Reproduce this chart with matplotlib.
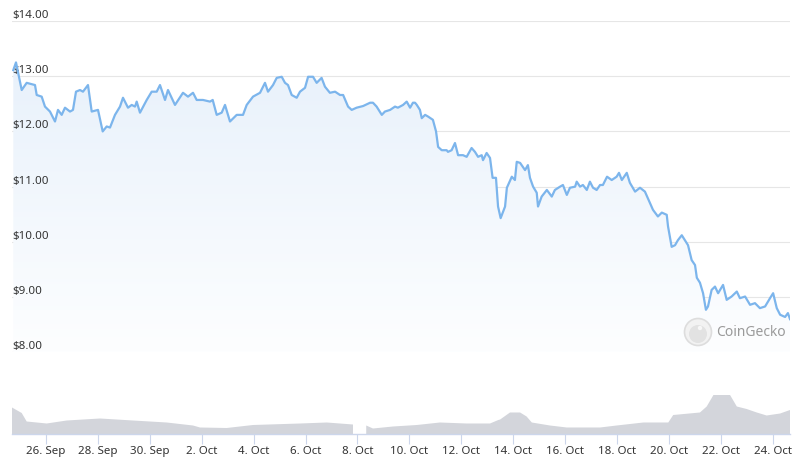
import matplotlib
matplotlib.use("Agg")
import matplotlib.pyplot as plt
import matplotlib.dates as mdates
import matplotlib.transforms as mtransforms
from matplotlib.patches import Circle
import numpy as np
from datetime import datetime, timedelta

# ---------------- data ----------------
start = datetime(2023, 9, 26)

price_days = [-1.26, -1.156, -0.936, -0.744, -0.424, -0.358, -0.166, -0.039, 0.154, 0.347,
              0.462, 0.605, 0.732, 0.925, 1.04, 1.156, 1.31, 1.425, 1.618, 1.761,
              2.004, 2.185, 2.339, 2.466, 2.659, 2.852, 2.967, 3.16, 3.303, 3.43,
              3.495, 3.622, 3.881, 4.073, 4.266, 4.393, 4.586, 4.701, 4.971, 5.279,
              5.472, 5.665, 5.807, 6.05, 6.32, 6.424, 6.578, 6.771, 6.898, 7.09,
              7.349, 7.592, 7.734, 7.977, 8.247, 8.439, 8.555, 8.748, 8.89, 9.083,
              9.21, 9.326, 9.468, 9.661, 9.788, 9.981, 10.1, 10.29, 10.43, 10.62,
              10.75, 10.94, 11.14, 11.33, 11.45, 11.64, 11.78, 11.97, 12.22, 12.49,
              12.6, 12.74, 12.94, 13.06, 13.26, 13.45, 13.56, 13.76, 13.9, 14.03,
              14.14, 14.22, 14.29, 14.41, 14.48, 14.61, 14.72, 14.91, 15.03, 15.11,
              15.25, 15.44, 15.49, 15.63, 15.76, 15.88, 16.07, 16.21, 16.4, 16.53,
              16.65, 16.79, 16.84, 16.98, 17.11, 17.21, 17.34, 17.42, 17.52, 17.69,
              17.76, 17.95, 18.07, 18.14, 18.27, 18.46, 18.57, 18.65, 18.77, 18.91,
              18.96, 19.1, 19.3, 19.49, 19.61, 19.81, 19.92, 20.07, 20.19, 20.39,
              20.45, 20.58, 20.69, 20.84, 20.96, 21.08, 21.22, 21.35, 21.46, 21.62,
              21.8, 21.99, 22.08, 22.19, 22.38, 22.5, 22.7, 22.89, 23.08, 23.28,
              23.39, 23.58, 23.73, 23.92, 23.97, 24.11, 24.24, 24.35, 24.5, 24.62,
              24.74, 24.88, 25.01, 25.08, 25.2, 25.32, 25.43, 25.51, 25.65, 25.78,
              25.9, 26.09, 26.23, 26.42, 26.62, 26.74, 26.94, 27.13, 27.32, 27.51,
              27.71, 27.9, 28.02, 28.16, 28.29, 28.48, 28.59, 28.67]

prices = [13.11, 13.25, 12.75, 12.88, 12.84, 12.66, 12.63, 12.45, 12.36, 12.18,
          12.39, 12.30, 12.43, 12.36, 12.39, 12.72, 12.75, 12.72, 12.84, 12.36,
          12.39, 12.00, 12.09, 12.07, 12.30, 12.45, 12.61, 12.43, 12.48, 12.45,
          12.54, 12.34, 12.57, 12.72, 12.72, 12.84, 12.57, 12.75, 12.48, 12.70,
          12.63, 12.70, 12.57, 12.57, 12.54, 12.57, 12.30, 12.34, 12.48, 12.18,
          12.30, 12.30, 12.48, 12.63, 12.70, 12.88, 12.72, 12.84, 12.97, 12.99,
          12.88, 12.84, 12.66, 12.61, 12.72, 12.79, 12.99, 12.99, 12.88, 12.97,
          12.81, 12.70, 12.72, 12.66, 12.66, 12.45, 12.39, 12.43, 12.46, 12.52,
          12.52, 12.45, 12.30, 12.36, 12.39, 12.45, 12.43, 12.48, 12.54, 12.43,
          12.52, 12.52, 12.48, 12.39, 12.24, 12.30, 12.27, 12.21, 12.00, 11.72,
          11.66, 11.66, 11.63, 11.66, 11.79, 11.57, 11.57, 11.54, 11.70, 11.63,
          11.54, 11.57, 11.48, 11.61, 11.52, 11.16, 11.16, 10.64, 10.43, 10.64,
          10.98, 11.18, 11.12, 11.45, 11.43, 11.30, 11.39, 11.16, 11.00, 10.89,
          10.64, 10.82, 10.94, 10.82, 10.94, 11.00, 11.03, 10.85, 10.98, 11.00,
          11.09, 11.00, 11.03, 10.94, 11.09, 10.98, 10.94, 11.03, 11.03, 11.18,
          11.12, 11.18, 11.25, 11.12, 11.25, 11.07, 10.91, 10.98, 10.91, 10.70,
          10.58, 10.46, 10.53, 10.49, 10.28, 9.91, 9.94, 10.03, 10.12, 10.03,
          9.94, 9.67, 9.58, 9.35, 9.26, 9.07, 8.77, 8.83, 9.13, 9.19,
          9.07, 9.22, 8.95, 9.01, 9.10, 8.98, 9.01, 8.86, 8.89, 8.80,
          8.83, 8.98, 9.07, 8.80, 8.68, 8.64, 8.71, 8.60]

volume_days = [-1.31, -0.936, -0.744, 0.027, 0.798, 2.081, 3.353, 4.651, 5.665, 5.934,
               6.963, 7.977, 9.788, 10.82, 11.83, 11.9, 12.34, 12.6, 13.37, 14.29,
               15.18, 16.21, 17.11, 17.43, 17.5, 17.88, 18.27, 18.52, 18.72, 19.42,
               20.07, 21.35, 21.99, 23.02, 23.98, 24.17, 25.2, 25.46, 25.72, 26.36,
               26.62, 27.0, 27.39, 27.77, 28.29, 28.67]
volumes = [53, 42, 25, 21, 27, 31, 27, 23, 17, 13,
           12, 18, 21, 23, 19, np.nan, 17, 11, 15, 18,
           23, 21, 21, 28, 29, 43, 43, 35, 23, 17,
           13, 13, 17, 23, 23, 38, 43, 55, 78, 78,
           55, 50, 43, 37, 41, 48]

y_ticks = [8, 9, 10, 11, 12, 13, 14]
y_tick_labels = ["$8.00", "$9.00", "$10.00", "$11.00", "$12.00", "$13.00", "$14.00"]
x_tick_days = [0, 2, 4, 6, 8, 10, 12, 14, 16, 18, 20, 22, 24, 26, 28]
x_tick_labels = ["26. Sep", "28. Sep", "30. Sep", "2. Oct", "4. Oct", "6. Oct", "8. Oct",
                 "10. Oct", "12. Oct", "14. Oct", "16. Oct", "18. Oct", "20. Oct",
                 "22. Oct", "24. Oct"]
x_range_days = [-1.31, 28.67]

# ---------------- styling ----------------
plt.rcParams['font.family'] = ['Noto Sans', 'DejaVu Sans']
LINE = '#7cb5ec'
GRID = '#e6e6e6'
TXT = '#333333'
VOL = '#d3d5db'
AXIS = '#ccd6eb'

def to_dates(days):
    return [start + timedelta(days=float(d)) for d in days]

p_dates = mdates.date2num(to_dates(price_days))
v_dates = mdates.date2num(to_dates(volume_days))
xlim = mdates.date2num(to_dates(x_range_days))

fig = plt.figure(figsize=(8.0, 4.66), dpi=100)
fig.patch.set_facecolor('white')

W = 800.0
H = 466.0
left = 12 / W
width = 778 / W

# main price axes: $14 at y=21px, $8 at y=352px
ax = fig.add_axes([left, (H - 352.3) / H, width, (352.3 - 21) / H])
ax.set_xlim(*xlim)
ax.set_ylim(min(y_ticks), max(y_ticks))
for s in ax.spines.values():
    s.set_visible(False)
ax.set_xticks([])
ax.set_yticks(y_ticks)
ax.tick_params(axis='y', length=0, labelleft=False)
ax.grid(axis='y', color=GRID, linewidth=0.8)
ax.set_axisbelow(True)

# gradient fill under the line
poly = ax.fill_between(p_dates, prices, min(y_ticks), facecolor='none', edgecolor='none')
grad = np.linspace(1, 0, 256).reshape(-1, 1)
from matplotlib.colors import LinearSegmentedColormap
cmap = LinearSegmentedColormap.from_list('g', ['#fdfeff', '#e8f1fb'])
im = ax.imshow(grad[::-1], cmap=cmap, aspect='auto', origin='lower',
               extent=[xlim[0], xlim[1], min(y_ticks), 13.3], zorder=1)
im.set_clip_path(poly.get_paths()[0], transform=ax.transData)
ax.set_xlim(*xlim)
ax.set_ylim(min(y_ticks), max(y_ticks))

ax.plot(p_dates, prices, color=LINE, linewidth=1.6, zorder=3, solid_joinstyle='round')

trans = mtransforms.blended_transform_factory(ax.transAxes, ax.transData)
for v, lab in zip(y_ticks, y_tick_labels):
    ax.text(0.0, v, lab, transform=trans, ha='left', va='bottom', fontsize=8.3,
            color=TXT, zorder=2)
    
# watermark
wm_ax = fig.add_axes([0, 0, 1, 1], facecolor='none')
wm_ax.set_xlim(0, W)
wm_ax.set_ylim(H, 0)
wm_ax.axis('off')
wm_ax.add_patch(Circle((698, 332), 13.5, facecolor='#f2f2f2', edgecolor='#dddddd', linewidth=1.2))
wm_ax.add_patch(Circle((698, 334), 9, facecolor='#e2e2e2', edgecolor='none'))
wm_ax.add_patch(Circle((700, 328), 2.2, facecolor='#f7f7f7', edgecolor='none'))
wm_ax.text(716, 332, 'CoinGecko', fontsize=10, color='#9a9a9a', ha='left', va='center')

# volume axes: baseline at y=434px
vax = fig.add_axes([left, (H - 434) / H, width, 54 / H])
vax.set_xlim(*xlim)
vax.fill_between(v_dates, volumes, 0, facecolor=VOL, edgecolor='none', linewidth=0)
vax.set_ylim(0, 108)
for k, s in vax.spines.items():
    s.set_visible(k == 'bottom')
vax.spines['bottom'].set_color(AXIS)
vax.spines['bottom'].set_linewidth(1.0)
vax.set_yticks([])
tick_nums = mdates.date2num(to_dates(x_tick_days))
vax.set_xticks(tick_nums)
vax.set_xticklabels(x_tick_labels)
vax.tick_params(axis='x', length=7, width=0.8, color=AXIS, labelsize=8.3,
                labelcolor=TXT, pad=1.5)

fig.savefig('out.png', dpi=100, facecolor='white')
